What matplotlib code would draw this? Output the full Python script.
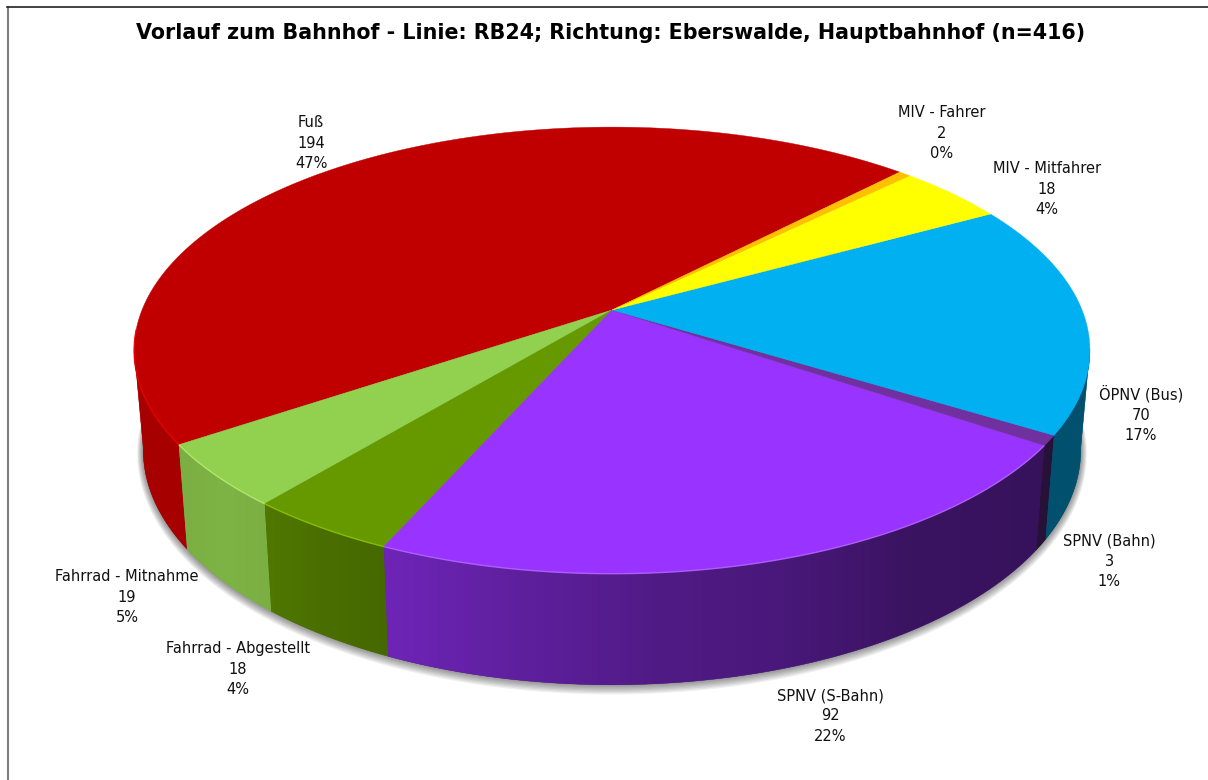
import numpy as np
import matplotlib
matplotlib.use("Agg")
import matplotlib.pyplot as plt
from matplotlib.colors import LinearSegmentedColormap, to_rgb

TITLE = "Vorlauf zum Bahnhof - Linie: RB24; Richtung: Eberswalde, Hauptbahnhof (n=416)"

categories = ["Fuß", "Fahrrad - Mitnahme", "Fahrrad - Abgestellt", "SPNV (S-Bahn)",
              "SPNV (Bahn)", "ÖPNV (Bus)", "MIV - Mitfahrer", "MIV - Fahrer"]
values = [194, 19, 18, 92, 3, 70, 18, 2]

colors = ["#C00000", "#92D050", "#669900", "#9933FF",
          "#7030A0", "#00B0F0", "#FFFF00", "#FFC000"]
rim_colors = ["#F00000", "#B8EE70", "#90C800", "#B868FF",
              "#7030A0", "#00B0F0", "#FFFF00", "#FFC000"]
# wall brightness from left to right across each slice
wall_shade = [[0.87, 0.87], [0.84, 0.86, 0.84], [0.78, 0.72, 0.68],
              [0.72, 0.62, 0.53, 0.48, 0.38, 0.36],
              [0.36, 0.36], [0.46, 0.46], [0.5, 0.5], [0.5, 0.5]]
label_xy = [(311, 143), (127, 597), (238, 669), (830, 716),
            (1109, 561), (1141, 414), (1047, 189), (942, 133)]

START_ANGLE = 46.2
CX = 612
# walls run between the two tangent points of the top ellipse
WALL_FROM, WALL_TO = 190, 350


def top_xy(theta):
    u, v = np.cos(np.radians(theta)), np.sin(np.radians(theta))
    w = 1 + 0.181 * v
    return CX + 470 * u / w, 310 - 216 * v / w


def base_xy(theta, grow=0.0, drop=0.0):
    u, v = np.cos(np.radians(theta)), np.sin(np.radians(theta))
    w = 1 + 0.181 * v
    return CX + (461 + grow) * u / w, 407.6 + drop - (227 + grow) * v / w


def shaded(color, f):
    return tuple(c * f for c in to_rgb(color))


fig = plt.figure(figsize=(12.08, 7.80), dpi=100)
ax = fig.add_axes([0, 0, 1, 1])

# frame, only left and top are in the crop
ax.plot([7.5, 7.5], [6.5, 780], color="#7f7f7f", lw=1.5, zorder=1)
ax.plot([7, 1208], [6.5, 6.5], color="#222222", lw=1.2, zorder=1)

# soft shadow under the pie
ring = np.linspace(0, 360, 361)
for k in range(1, 9):
    sx, sy = base_xy(ring, grow=k * 0.75, drop=k * 0.3)
    ax.fill(sx, sy, color="black", alpha=0.06, lw=0, zorder=2)

total = sum(values)
edges = START_ANGLE + np.cumsum([0] + values) / total * 360

# side walls: horizontal gradient clipped to each wall outline
for i, color in enumerate(colors):
    a0 = max(edges[i], WALL_FROM)
    a1 = min(edges[i + 1], WALL_TO)
    if a1 <= a0:
        continue
    arc = np.linspace(a0, a1, 200)
    tx, ty = top_xy(arc)
    bx, by = base_xy(arc)
    px = np.r_[tx, bx[::-1]]
    py = np.r_[ty, by[::-1]]
    shades = wall_shade[i]
    mean_col = shaded(color, np.mean(shades))
    outline = ax.fill(px, py, facecolor=mean_col, edgecolor=mean_col, lw=0.3, zorder=3)[0]
    cmap = LinearSegmentedColormap.from_list(
        f"wall{i}", [shaded(color, s) for s in shades], N=256)
    grad = np.linspace(0, 1, 256).reshape(1, -1)
    im = ax.imshow(grad, cmap=cmap, aspect="auto", zorder=3.1, interpolation="bilinear",
                   extent=(px.min(), px.max(), py.max(), py.min()))
    im.set_clip_path(outline)

# top surface
for i, color in enumerate(colors):
    arc = np.linspace(edges[i], edges[i + 1], 300)
    ax_, ay_ = top_xy(arc)
    ax.fill(np.r_[CX, ax_], np.r_[310, ay_], facecolor=color, edgecolor=color,
            lw=0.3, zorder=4)

# bright rim along the front edge
for i, rim in enumerate(rim_colors):
    a0 = max(edges[i], 185)
    a1 = min(edges[i + 1], 325.7)
    if a1 <= a0:
        continue
    rx, ry = top_xy(np.linspace(a0, a1, 200))
    ax.plot(rx, ry, color=rim, lw=1.0, alpha=0.8, zorder=5, solid_capstyle="butt")

# labels
for name, val, (lx, ly) in zip(categories, values, label_xy):
    pct = round(val / total * 100)
    ax.text(lx, ly, f"{name}\n{val}\n{pct}%", ha="center", va="center",
            fontsize=10.5, family="DejaVu Sans", color="#111111",
            linespacing=1.45, zorder=6)

ax.text(611, 33, TITLE, ha="center", va="center", fontsize=14.9,
        family="DejaVu Sans", fontweight="bold", color="black", zorder=6)

ax.set_xlim(0, 1208)
ax.set_ylim(780, 0)
ax.axis("off")

fig.savefig("out.png", dpi=100)
